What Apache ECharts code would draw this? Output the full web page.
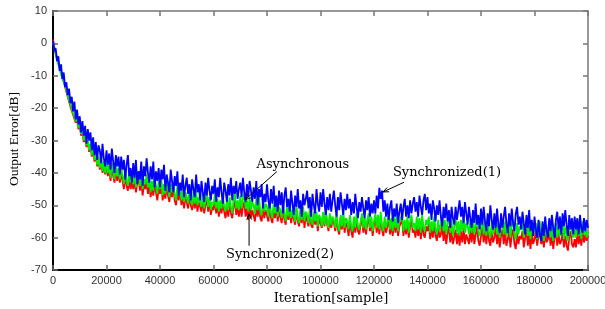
<!DOCTYPE html>
<html><head><meta charset="utf-8">
<script src="https://cdn.jsdelivr.net/npm/echarts@6/dist/echarts.min.js"></script>
<style>html,body{margin:0;padding:0;background:#fff}#c{width:605px;height:309px}</style>
</head><body><div id="c"></div>
<script>
var xStep = 500; // samples between points
var xTicks = [0,20000,40000,60000,80000,100000,120000,140000,160000,180000,200000];
var yTicks = [-70,-60,-50,-40,-30,-20,-10,0,10];

var blue = [
0.8,-2.5,-1.5,-5.5,-4,-8.5,-6.5,-11,-9,-13.5,
-12,-16,-14,-18.5,-16.5,-21,-18,-23.5,-20.5,-25,
-22.5,-27.5,-24,-28.5,-25.5,-31,-26.5,-30,-27.5,-33,
-29,-34.5,-30.5,-36,-31.5,-33,-37,-31,-35.5,-38,
-33,-37.5,-34,-39,-32.5,-36.5,-40,-34.5,-38,-35,
-40.5,-35,-39,-36,-42,-37.5,-34.5,-41,-38.5,-43,
-37,-41.5,-36,-43.5,-39.5,-42,-36.5,-44,-38,-41,
-35.5,-40,-43,-38,-42,-36.5,-44.5,-39.5,-42.5,-38.5,
-44.5,-39,-42,-37.5,-45.5,-40.5,-43,-46,-39,-42.5,
-46,-41,-44,-39.5,-47,-43,-45.5,-40.5,-47.5,-44,
-41.5,-46.5,-43.5,-48.5,-42,-45,-47.5,-40.5,-46,-43.5,
-48.5,-42.5,-46,-49,-43,-47,-41.5,-45.5,-48.5,-44,
-46.5,-42,-49,-44.5,-47.5,-41.5,-46,-49.5,-43,-45.5,
-49,-43.5,-47,-41.5,-48.5,-44,-46.5,-42.5,-48,-45,
-43,-47.5,-41.5,-46,-49,-43.5,-47.5,-42.5,-45.5,-49,
-44.5,-48,-42.5,-50,-45,-47.5,-43.5,-51,-46.5,-49,
-43.5,-48.5,-51,-45,-49.5,-44,-50.5,-47,-52,-45.5,
-50,-46,-52.5,-47,-44.5,-50.5,-48,-52,-45.5,-49.5,
-53,-47,-50.5,-45,-51,-48.5,-53.5,-46.5,-50,-48,
-45.5,-51,-47.5,-53.5,-46.5,-50,-52.5,-45,-49.5,-52,
-46,-50.5,-45,-49.5,-53,-47.5,-51.5,-46.5,-52,-48.5,
-45.5,-50,-53.5,-47.5,-51.5,-46,-49.5,-53,-48,-51.5,
-46.5,-51,-48,-53,-49,-52.5,-46.5,-50.5,-54,-49,
-52,-47.5,-51,-54,-48.5,-51.5,-47.5,-53.5,-49.5,-52.5,
-48.5,-52.5,-47,-51,-44.6,-48,-45.5,-52,-48.5,-53.5,
-49.5,-54.5,-50.5,-48.5,-55,-51,-53.5,-49.5,-55.5,-52,
-49.5,-54.5,-50.5,-48,-53.5,-50,-54,-48.5,-52.5,-49.5,
-47.5,-52,-49,-53.5,-47,-50.5,-53,-48.5,-46.5,-51.5,
-47.5,-52.5,-49.5,-54.5,-48.5,-51,-55,-50,-53,-48.5,
-53.5,-56.5,-50.5,-54,-49.5,-55,-51.5,-57,-50.5,-54,
-56,-50.5,-54.5,-51.5,-48.5,-53.5,-50.5,-55.5,-49,-52.5,
-56,-50.5,-54,-57,-51.5,-55.5,-49.5,-56,-53,-57.5,
-51,-56,-50.5,-55,-58,-52.5,-56.5,-50,-54.5,-57.5,
-52.5,-57,-51,-56,-58.5,-52.5,-57,-53.5,-50.5,-55.5,
-58.5,-52.5,-56.5,-51,-55.5,-58,-52.5,-50.5,-56,-53.5,
-57.5,-52,-55.5,-59,-53,-57,-51.5,-58,-54.5,-59.5,
-53.5,-57.5,-60,-54.5,-59,-61,-55,-59.5,-53.5,-58,
-60,-54,-58,-53,-57,-60,-54.5,-52,-57.5,-53.5,
-59,-52.5,-56.5,-51.5,-56,-59.5,-53,-57.5,-54,-59,
-53.5,-57.5,-54,-59,-53,-57,-58.5,-54,-58,-54.5,
-57];

var green = [
0.5,-2,-2.5,-5,-5.5,-8,-8,-11,-11,-13,
-13.5,-16,-16,-19,-18.5,-21.5,-21,-24,-23,-26,
-25,-28,-26.5,-30,-28,-31.5,-29.5,-33,-31,-34.5,
-32,-36,-33.5,-37.5,-35,-38.5,-35.5,-39.5,-36.5,-40,
-36.5,-40,-37.5,-41.5,-37,-39.5,-42,-37.5,-41,-38.5,
-42,-38.5,-41,-43.5,-39,-42.5,-44,-39.5,-43,-40.5,
-43.5,-40,-44.5,-41.5,-39.5,-44,-41,-45,-42,-43.5,
-40.5,-44.5,-41.5,-46,-42.5,-45.5,-41.5,-44,-46.5,-42.5,
-45,-42,-47,-43.5,-46.5,-42.5,-45,-47.5,-43.5,-46,
-43,-47,-48.5,-44,-47,-43.5,-48.5,-45.5,-49,-46,
-47.5,-49.5,-45.5,-48.5,-50,-46,-49.5,-45.5,-50,-47.5,
-48,-50.5,-46.5,-51,-48.5,-46,-50.5,-47.5,-51.5,-49,
-50,-46.5,-51,-48,-52,-48.5,-51,-47,-50.5,-52,
-48.5,-51.5,-47.5,-50.5,-52.5,-48.5,-46.5,-51,-48.5,-51.5,
-47,-51,-48,-46.5,-51,-48.5,-52,-47.5,-51.5,-49,
-50,-52.5,-48,-51.5,-47.5,-52,-53,-49,-52,-49.5,
-50.5,-53.5,-48.5,-52.5,-54,-49.5,-52.5,-48.5,-53.5,-50.5,
-51.5,-54,-49.5,-53,-55,-50.5,-53.5,-49,-54,-51.5,
-52,-55,-50,-54,-55.5,-51,-54.5,-50.5,-55,-52,
-53,-55.5,-51,-55,-56,-52,-55,-52,-56.5,-53,
-54,-56.5,-52,-56,-51.5,-55.5,-57,-52.5,-56,-53.5,
-54.5,-57,-52.5,-56.5,-58,-53,-56.5,-52,-57,-54,
-55,-57.5,-53,-56.5,-58,-53.5,-57,-52.5,-56.5,-57.5,
-55,-52.5,-57,-53.5,-57.5,-54.5,-52.5,-57,-53.5,-58,
-55,-52.5,-57,-53,-57.5,-52,-56.5,-58,-53.5,-57,
-55,-52.5,-57.5,-54,-58,-53,-57,-53.5,-58,-55,
-55.5,-53,-58,-54.5,-57.5,-53.5,-58.5,-55,-53,-57,
-55.5,-58,-53.5,-57.5,-54,-58.5,-53,-57,-58,-54.5,
-56,-53.5,-58.5,-55,-58,-53.5,-57.5,-59,-54.5,-58,
-56,-53,-58,-54.5,-59,-55.5,-53.5,-58.5,-55,-59.5,
-56.5,-54,-58.5,-55,-59.5,-54.5,-58,-53.5,-58.5,-55.5,
-56.5,-59,-54.5,-58.5,-54,-59,-56,-53.5,-58,-59.5,
-57,-54.5,-59,-55,-59.5,-54,-58.5,-60,-55.5,-59,
-57,-54,-59,-55.5,-60,-56.5,-54.5,-59,-55,-59.5,
-57.5,-55,-60,-56,-54.5,-59,-60.5,-55.5,-59,-56.5,
-57.5,-55,-60,-57,-54.5,-59.5,-56,-60.5,-55.5,-59,
-58,-55.5,-60.5,-57,-55,-60,-57.5,-61,-56,-59.5,
-58,-55,-60,-56.5,-61,-57.5,-55.5,-60,-56.5,-59.5,
-58,-55,-60.5,-56.5,-59.5,-61,-56.5,-54.5,-59,-60,
-57.5,-60,-55.5,-59.5,-56,-60.5,-55,-59,-56.5,-60,
-58];

var red = [
1.2,-1,-3,-4.5,-6,-7.5,-8.5,-10.5,-11.5,-13.5,
-14,-16.5,-16.5,-19.5,-19,-22,-21.5,-24.5,-23.5,-26.5,
-25.5,-28.5,-27,-30.5,-28.5,-32,-30,-33.5,-31.5,-35,
-32.5,-36.5,-34,-38,-35.5,-39,-36,-40,-37.5,-40.5,
-37,-41,-38.5,-42.5,-38,-41,-43,-39,-42.5,-40,
-43,-40,-42.5,-45,-40.5,-44,-45.5,-41.5,-45,-42.5,
-45,-42,-46,-43,-41.5,-45.5,-42.5,-47,-43.5,-45,
-42.5,-46.5,-43.5,-47.5,-44,-47,-43,-46,-48.5,-44.5,
-46.5,-43.5,-48.5,-45,-48,-44,-47,-49,-45,-47.5,
-44.5,-48.5,-50,-45.5,-48.5,-45,-50,-47,-51,-47.5,
-49,-51,-47,-50,-51.5,-47.5,-51,-47.5,-52,-49,
-49.5,-52,-48,-52.5,-50,-48,-52,-49,-53,-50.5,
-51.5,-48,-52.5,-49.5,-53.5,-50,-52.5,-49,-52,-54,
-50.5,-53.5,-49.5,-52.5,-54,-50.5,-48.5,-53,-50.5,-53.5,
-49.5,-53.5,-50.5,-49,-53.5,-51,-54.5,-50,-54,-51.5,
-52,-55,-50,-53.5,-50,-54,-55,-51,-54,-51.5,
-51.5,-55,-50,-54,-55.5,-51,-54,-50,-55,-52,
-52.5,-55.5,-50.5,-54.5,-56,-51.5,-54.5,-50.5,-55.5,-52.5,
-53,-56,-51,-55,-56.5,-52,-55.5,-51.5,-57,-53,
-53.5,-56.5,-52,-56,-57,-52.5,-56,-53,-58,-54,
-54.5,-57,-52.5,-56.5,-52,-56,-58,-53,-57,-54.5,
-55.5,-58,-53.5,-57.5,-59,-54,-57.5,-53,-58.5,-55.5,
-56.5,-59.5,-54.5,-58,-60,-55,-58.5,-54,-58,-59,
-56,-53.5,-58.5,-55,-59,-55.5,-54,-58,-55,-59.5,
-56,-54,-58.5,-54.5,-59,-53.5,-57.5,-59.5,-55,-58.5,
-56.5,-54,-59,-55.5,-59.5,-54.5,-58.5,-55,-59.5,-56.5,
-57,-54.5,-59.5,-56,-59,-55,-60,-56.5,-54.5,-58.5,
-57.5,-60,-55.5,-59.5,-56,-60.5,-55,-59,-60,-56.5,
-58,-55.5,-60.5,-57,-60,-55.5,-59.5,-61,-56.5,-60,
-59,-56,-61,-57.5,-62,-58.5,-56.5,-61.5,-58,-62,
-60,-57.5,-62,-58.5,-62.5,-58,-61.5,-57,-62,-59,
-59.5,-62,-57.5,-61.5,-57,-62,-59,-56.5,-61,-62.5,
-59.5,-57,-61.5,-58,-62,-57,-61,-62.5,-58,-61.5,
-60,-57,-62,-58.5,-63,-59.5,-57.5,-62,-58,-62.5,
-60.5,-58,-63,-59,-57.5,-62,-63.5,-58.5,-62,-59.5,
-60.5,-58,-63,-60,-57.5,-62.5,-59,-63.5,-58.5,-62,
-60.5,-58,-62.5,-59.5,-57.5,-62,-59.5,-63,-58,-61.5,
-60.5,-58,-62.5,-59,-63.5,-60,-58,-62.5,-59,-62,
-61,-58.5,-63,-59.5,-62.5,-64,-59.5,-58,-62,-63,
-60.5,-63,-58.5,-62,-59,-62.5,-58,-61.5,-59,-61,
-59.5];

// annotations: [text, textX, textY, arrowFromX, arrowFromY, arrowToX, arrowToY] in data units
var annotations = [
  ['Asynchronous', 93400, -37.5, 83700, -39.6, 71800, -48.3],
  ['Synchronized(1)', 147300, -40.0, 131200, -42.9, 123400, -45.9],
  ['Synchronized(2)', 84900, -65.3, 73300, -62.5, 73300, -52.7]
];

function pairs(arr){ return arr.map(function(v,i){ return [i*xStep, v]; }); }
function plain(v){ return String(v); }

var chart = echarts.init(document.getElementById('c'), null, {renderer:'canvas'});
var labelFont = {color:'#333', fontFamily:'Liberation Sans', fontSize:11};
var option = {
  animation:false,
  backgroundColor:'#fff',
  grid:{left:53, right:17, top:11, bottom:39, containLabel:false, outerBoundsMode:'none'},
  xAxis:[{
    type:'value', min:xTicks[0], max:xTicks[xTicks.length-1], interval:20000,
    axisLine:{onZero:false, lineStyle:{color:'#000', width:2}},
    axisTick:{inside:true, length:5, lineStyle:{color:'#666', width:1.5}},
    axisLabel:Object.assign({margin:5, formatter:plain}, labelFont),
    splitLine:{show:false}
  },{
    type:'value', position:'top', min:0, max:200000, interval:20000,
    axisLine:{show:true, onZero:false, lineStyle:{color:'#777', width:1.5}},
    axisTick:{inside:true, length:5, lineStyle:{color:'#777', width:1.5}},
    axisLabel:{show:false}, splitLine:{show:false}
  }],
  yAxis:[{
    type:'value', min:yTicks[0], max:yTicks[yTicks.length-1], interval:10,
    axisLine:{show:true, onZero:false, lineStyle:{color:'#000', width:2}},
    axisTick:{show:true, inside:true, length:5, lineStyle:{color:'#666', width:1.5}},
    axisLabel:Object.assign({margin:6, formatter:plain}, labelFont),
    splitLine:{show:false}
  },{
    type:'value', position:'right', min:-70, max:10, interval:10,
    axisLine:{show:true, onZero:false, lineStyle:{color:'#777', width:1.5}},
    axisTick:{show:true, inside:true, length:5, lineStyle:{color:'#777', width:1.5}},
    axisLabel:{show:false}, splitLine:{show:false}
  }],
  series:[
    {type:'line', data:pairs(red), showSymbol:false, symbol:'none', lineStyle:{color:'#ff0000', width:1.8}, z:2},
    {type:'line', data:pairs(green), showSymbol:false, symbol:'none', lineStyle:{color:'#00ee00', width:1.8}, z:3},
    {type:'line', data:pairs(blue), showSymbol:false, symbol:'none', lineStyle:{color:'#0000ff', width:1.8}, z:4}
  ]
};
chart.setOption(option);

var g = [
  {type:'text', x:331, y:299, z:10, style:{text:'Iteration[sample]', fill:'#000', font:'13px "DejaVu Serif"', textAlign:'center', textVerticalAlign:'middle'}},
  {type:'text', x:14, y:139, rotation:Math.PI/2, z:10, style:{text:'Output Error[dB]', fill:'#000', font:'13.5px "Liberation Serif"', textAlign:'center', textVerticalAlign:'middle'}}
];
annotations.forEach(function(a){
  var t = chart.convertToPixel({xAxisIndex:0, yAxisIndex:0}, [a[1], a[2]]);
  var p0 = chart.convertToPixel({xAxisIndex:0, yAxisIndex:0}, [a[3], a[4]]);
  var p1 = chart.convertToPixel({xAxisIndex:0, yAxisIndex:0}, [a[5], a[6]]);
  g.push({type:'text', x:t[0], y:t[1], z:10, style:{text:a[0], fill:'#000', font:'13px "DejaVu Serif"', textAlign:'center', textVerticalAlign:'middle'}});
  g.push({type:'line', z:10, shape:{x1:p0[0], y1:p0[1], x2:p1[0], y2:p1[1]}, style:{stroke:'#000', lineWidth:1}});
  var ang = Math.atan2(p1[1]-p0[1], p1[0]-p0[0]);
  var L = 6, w = 0.4;
  g.push({type:'polyline', z:10, shape:{points:[
    [p1[0]-L*Math.cos(ang-w), p1[1]-L*Math.sin(ang-w)],
    [p1[0], p1[1]],
    [p1[0]-L*Math.cos(ang+w), p1[1]-L*Math.sin(ang+w)]
  ]}, style:{stroke:'#000', lineWidth:1, fill:null}});
});
chart.setOption({graphic:g});
</script>
</body></html>
